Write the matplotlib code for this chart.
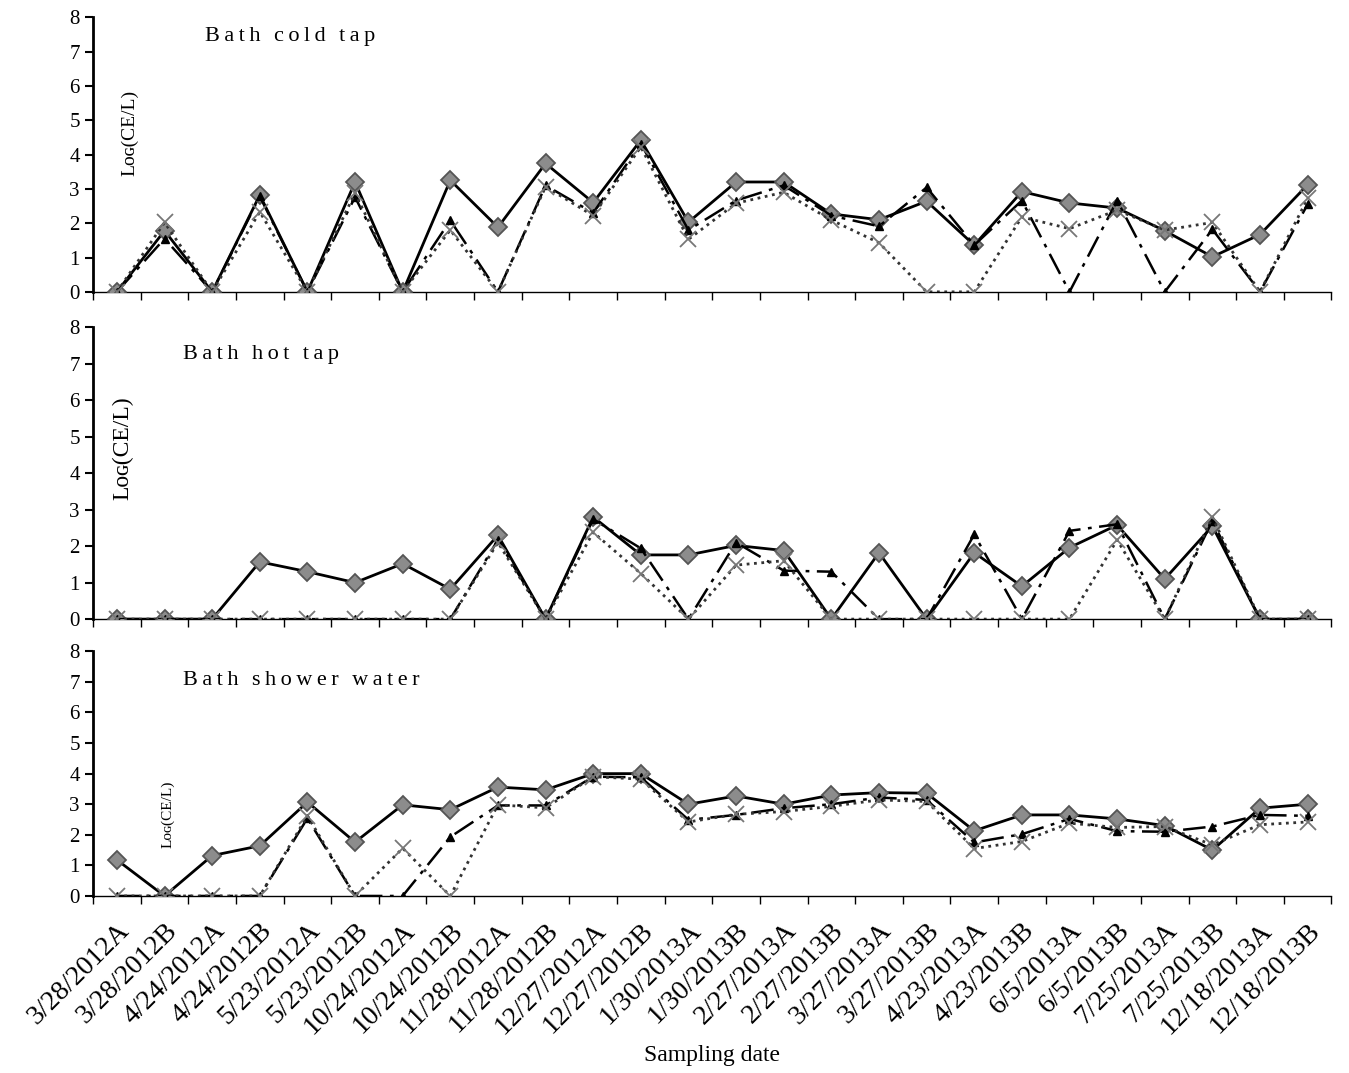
import matplotlib
matplotlib.use('Agg')
import matplotlib.pyplot as plt
import numpy as np

plt.rcParams['font.family'] = ['Liberation Serif', 'DejaVu Serif']

dates = ['3/28/2012A', '3/28/2012B', '4/24/2012A', '4/24/2012B', '5/23/2012A',
         '5/23/2012B', '10/24/2012A', '10/24/2012B', '11/28/2012A', '11/28/2012B',
         '12/27/2012A', '12/27/2012B', '1/30/2013A', '1/30/2013B', '2/27/2013A',
         '2/27/2013B', '3/27/2013A', '3/27/2013B', '4/23/2013A', '4/23/2013B',
         '6/5/2013A', '6/5/2013B', '7/25/2013A', '7/25/2013B', '12/18/2013A',
         '12/18/2013B']

# Bath cold tap
cold_diamond = [0, 1.78, 0, 2.82, 0, 3.2, 0, 3.25, 1.88, 3.74, 2.6, 4.42, 2.03,
                3.2, 3.2, 2.27, 2.1, 2.64, 1.36, 2.92, 2.59, 2.44, 1.78, 1.02, 1.67, 3.12]
cold_triangle = [0, 1.55, 0, 2.78, 0, 2.76, 0, 2.08, 0, 3.1, 2.3, 4.32, 1.8,
                 2.66, 3.1, 2.22, 1.91, 3.04, 1.36, 2.66, 0, 2.66, 0, 1.82, 0, 2.55]
cold_cross = [0, 2.02, 0, 2.33, 0, 2.88, 0, 1.8, 0, 3.06, 2.22, 4.22, 1.53,
              2.58, 2.9, 2.09, 1.43, 0, 0, 2.18, 1.84, 2.38, 1.8, 2.02, 0, 2.72]

# Bath hot tap
hot_diamond = [0, 0, 0, 1.57, 1.3, 1.0, 1.52, 0.82, 2.3, 0, 2.8, 1.76, 1.76,
               2.02, 1.88, 0, 1.82, 0, 1.82, 0.9, 1.96, 2.58, 1.1, 2.55, 0, 0]
hot_triangle = [0, 0, 0, 0, 0, 0, 0, 0, 2.17, 0, 2.74, 1.94, 0,
                2.1, 1.33, 1.3, 0, 0, 2.32, 0, 2.42, 2.6, 0, 2.7, 0, 0]
hot_cross = [0, 0, 0, 0, 0, 0, 0, 0, 2.1, 0, 2.38, 1.25, 0,
             1.48, 1.6, 0, 0, 0, 0, 0, 0, 2.17, 0, 2.8, 0, 0]

# Bath shower water
shower_diamond = [1.18, 0, 1.32, 1.64, 3.07, 1.76, 2.98, 2.82, 3.56, 3.47, 4.0, 4.0, 3.0,
                  3.27, 3.0, 3.3, 3.38, 3.36, 2.13, 2.65, 2.65, 2.52, 2.3, 1.5, 2.87, 3.0]
shower_triangle = [0, 0, 0, 0, 2.54, 0, 0, 1.93, 2.96, 2.96, 3.9, 3.88, 2.49,
                   2.65, 2.87, 3.0, 3.22, 3.14, 1.75, 2.02, 2.52, 2.12, 2.1, 2.27, 2.65, 2.62]
shower_cross = [0, 0, 0, 0, 2.62, 0, 1.56, 0, 2.98, 2.88, 3.9, 3.82, 2.42,
                2.67, 2.76, 2.93, 3.14, 3.09, 1.55, 1.78, 2.38, 2.24, 2.27, 1.67, 2.33, 2.42]

panels = [
    ('Bath cold tap', cold_diamond, cold_triangle, cold_cross),
    ('Bath hot tap', hot_diamond, hot_triangle, hot_cross),
    ('Bath shower water', shower_diamond, shower_triangle, shower_cross),
]

# axes boxes in figure fractions (left, bottom, width, height)
boxes = [(0.069, 0.728, 0.918, 0.256),
         (0.069, 0.423, 0.918, 0.272),
         (0.069, 0.165, 0.918, 0.228)]
title_pos = [(0.09, 0.93), (0.073, 0.905), (0.073, 0.88)]
ylab_pos = [(0.03, 0.58), (0.024, 0.585), (0.0605, 0.335)]
ylab_size = [14, 17, 11]


def spaced(s):
    # loose letter spacing like the original figure
    return '\u2009\u2009\u2009'.join('\u2009'.join(w) for w in s.split(' '))


fig = plt.figure(figsize=(13.49, 10.73), dpi=100)
x = np.arange(len(dates))

for k, (name, dia, tri, crs) in enumerate(panels):
    ax = fig.add_axes(boxes[k])
    ax.plot(x, dia, color='black', lw=2.0, marker='D', ms=9,
            mfc='#8c8c8c', mec='#555555', mew=1.3, zorder=3)
    ax.plot(x, tri, color='black', lw=1.8, dashes=(9, 3, 1.5, 3),
            marker='^', ms=6, mfc='black', mec='black', zorder=4)
    ax.plot(x, crs, color='#333333', lw=2.0, ls=':', marker='x', ms=12,
            mec='#777777', mew=1.3, zorder=5)

    ax.set_xlim(-0.5, len(dates) - 0.5)
    ax.set_ylim(0, 8)
    ax.set_yticks(range(0, 9))
    ax.tick_params(axis='y', labelsize=15, length=6, width=1.5, direction='out')
    ax.set_xticks(x)
    ax.set_xticks(np.arange(-0.5, len(dates)), minor=True)
    ax.tick_params(axis='x', which='major', length=0, pad=16)
    ax.tick_params(axis='x', which='minor', length=6, width=1.0, direction='out')
    ax.spines['top'].set_visible(False)
    ax.spines['right'].set_visible(False)
    ax.spines['left'].set_linewidth(2.0)
    ax.spines['bottom'].set_linewidth(1.0)
    ax.set_facecolor('none')

    if k < 2:
        ax.set_xticklabels([])
    else:
        ax.set_xticklabels(dates, rotation=45, ha='right', rotation_mode='anchor',
                           fontsize=20)
        ax.set_xlabel('Sampling date', fontsize=17, labelpad=4)

    ax.text(title_pos[k][0], title_pos[k][1], spaced(name),
            transform=ax.transAxes, fontsize=16, va='center', ha='left')
    ax.text(ylab_pos[k][0], ylab_pos[k][1], 'L\u1d0f\u0262(CE/L)', transform=ax.transAxes,
            rotation=90, fontsize=ylab_size[k], va='center', ha='center')

fig.savefig('out.png', dpi=100)
